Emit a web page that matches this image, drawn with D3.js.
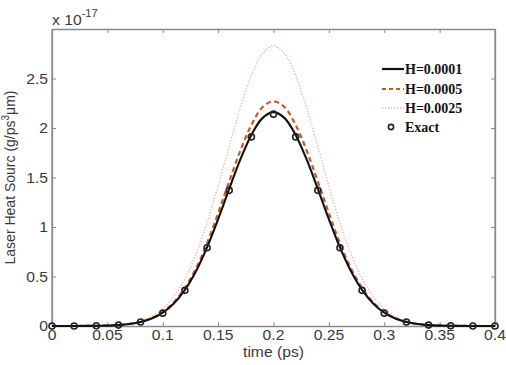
<!DOCTYPE html>
<html><head><meta charset="utf-8">
<script src="https://cdn.jsdelivr.net/npm/d3@7/dist/d3.min.js"></script>
<style>body{margin:0;background:#fff}svg{display:block}</style>
</head><body>
<svg id="c" width="506" height="365"></svg>
<script>
// time grid (ps)
const tFine = [0,0.01,0.02,0.03,0.04,0.05,0.06,0.07,0.08,0.09,0.10,0.11,0.12,0.13,0.14,0.15,0.16,0.17,0.18,0.19,0.20,
  0.21,0.22,0.23,0.24,0.25,0.26,0.27,0.28,0.29,0.30,0.31,0.32,0.33,0.34,0.35,0.36,0.37,0.38,0.39,0.40];
const h0001 = [0,0,0,0.001,0.002,0.004,0.009,0.020,0.040,0.075,0.134,0.228,0.365,0.554,0.795,1.08,1.385,1.68,1.93,2.10,2.16,
  2.10,1.93,1.68,1.385,1.08,0.795,0.554,0.365,0.228,0.134,0.075,0.040,0.020,0.009,0.004,0.002,0.001,0,0,0];
const h0005 = [0,0,0,0.001,0.002,0.004,0.009,0.021,0.042,0.079,0.14,0.24,0.385,0.58,0.835,1.14,1.46,1.77,2.03,2.21,2.27,
  2.21,2.03,1.77,1.46,1.14,0.835,0.58,0.385,0.24,0.14,0.079,0.042,0.021,0.009,0.004,0.002,0.001,0,0,0];
const h0025 = [0,0,0,0.001,0.002,0.005,0.012,0.026,0.052,0.098,0.176,0.299,0.478,0.726,1.04,1.415,1.815,2.20,2.53,2.75,2.83,
  2.75,2.53,2.20,1.815,1.415,1.04,0.726,0.478,0.299,0.176,0.098,0.052,0.026,0.012,0.005,0.002,0.001,0,0,0];
const tExact = [0,0.02,0.04,0.06,0.08,0.10,0.12,0.14,0.16,0.18,0.20,0.22,0.24,0.26,0.28,0.30,0.32,0.34,0.36,0.38,0.40];
const exact = [0,0,0.002,0.009,0.04,0.13,0.36,0.79,1.37,1.91,2.14,1.91,1.37,0.79,0.36,0.13,0.04,0.009,0.002,0,0];
const xTicks = [0,0.05,0.1,0.15,0.2,0.25,0.3,0.35,0.4];
const xTickLabels = ["0","0.05","0.1","0.15","0.2","0.25","0.3","0.35","0.4"];
const yTicks = [0,0.5,1,1.5,2,2.5];
const yTickLabels = ["0","0.5","1","1.5","2","2.5"];
const seriesNames = ["H=0.0001","H=0.0005","H=0.0025","Exact"];

const svg = d3.select("#c");
const L=52, R=495, T=29, B=326;
const x = d3.scaleLinear().domain([0,0.4]).range([L,R]);
const y = d3.scaleLinear().domain([0,3]).range([B,T]);
const axisCol = "#8a8a8a", textCol = "#3a3a3a";
const SX = 1.12;

function txt(px, py, s, opts={}) {
  const g = svg.append("g").attr("transform", `translate(${px},${py}) scale(${opts.sx||SX},1)`);
  return g.append("text").attr("text-anchor", opts.anchor||"middle")
    .attr("font-family", opts.family||"Arial, 'Liberation Sans', sans-serif")
    .attr("font-size", opts.size||14).attr("font-weight", opts.weight||"normal")
    .attr("fill", opts.fill||textCol).text(s);
}

// axes box via d3 axes
svg.append("g").attr("transform",`translate(0,${B})`)
  .call(d3.axisBottom(x).tickValues(xTicks).tickFormat("").tickSizeInner(-4).tickSizeOuter(0));
svg.append("g").attr("transform",`translate(0,${T})`)
  .call(d3.axisTop(x).tickValues(xTicks).tickFormat("").tickSizeInner(-4).tickSizeOuter(0));
svg.append("g").attr("transform",`translate(${L},0)`)
  .call(d3.axisLeft(y).tickValues(yTicks).tickFormat("").tickSizeInner(-4).tickSizeOuter(0));
svg.append("g").attr("transform",`translate(${R},0)`)
  .call(d3.axisRight(y).tickValues(yTicks).tickFormat("").tickSizeInner(-4).tickSizeOuter(0));
svg.selectAll(".domain").attr("stroke", axisCol).attr("stroke-width",1.3);
svg.selectAll(".tick line").attr("stroke", axisCol);
svg.append("line").attr("x1",L).attr("x2",L).attr("y1",T).attr("y2",B).attr("stroke",axisCol).attr("stroke-width",1.3);
svg.append("line").attr("x1",R).attr("x2",R).attr("y1",T).attr("y2",B).attr("stroke",axisCol).attr("stroke-width",1.3);

xTicks.forEach((v,i)=>txt(x(v), 340, xTickLabels[i]));
yTicks.forEach((v,i)=>txt(L-4, y(v)+5, yTickLabels[i], {anchor:"end"}));
txt((L+R)/2, 357, "time (ps)");

// y label
const yg = svg.append("g").attr("transform",`translate(15,${(T+B)/2}) rotate(-90)`);
const ylt = yg.append("text").attr("text-anchor","middle").attr("font-family","Arial, 'Liberation Sans', sans-serif")
  .attr("font-size",14).attr("fill",textCol);
ylt.append("tspan").text("Laser Heat Sourc (g/ps");
ylt.append("tspan").attr("dy",-6).attr("font-size",10).text("3");
ylt.append("tspan").attr("dy",6).text("\u03bcm)");

// exponent
const eg = svg.append("g").attr("transform",`translate(52,25) scale(${SX},1)`);
const et = eg.append("text").attr("font-family","Arial, 'Liberation Sans', sans-serif").attr("font-size",14).attr("fill",textCol);
et.append("tspan").text("x 10");
et.append("tspan").attr("dy",-8).attr("font-size",10).text("-17");

// curves
const line = d3.line().x(d=>x(d[0])).y(d=>y(d[1])).curve(d3.curveCatmullRom);
const styles = [
  {data:h0025, stroke:"#f0a898", w:1.3, dash:"1.2,1.8"},
  {data:h0005, stroke:"#c85a28", w:2.2, dash:"5,3.5"},
  {data:h0001, stroke:"#111", w:2.1, dash:null},
];
styles.forEach(s=>{
  svg.append("path").datum(tFine.map((t,i)=>[t,s.data[i]])).attr("d",line)
    .attr("fill","none").attr("stroke",s.stroke).attr("stroke-width",s.w)
    .attr("stroke-dasharray",s.dash);
});
svg.append("g").selectAll("circle").data(tExact.map((t,i)=>[t,exact[i]])).join("circle")
  .attr("cx",d=>x(d[0])).attr("cy",d=>y(d[1])).attr("r",3)
  .attr("fill","none").attr("stroke","#222").attr("stroke-width",1.6);

// legend
const legStyles = [
  {stroke:"#111", w:2.2, dash:null},
  {stroke:"#c85a28", w:1.8, dash:"4,3"},
  {stroke:"#f0a898", w:1.3, dash:"1.2,1.8"},
];
const legY = [69,89,108,127];
seriesNames.forEach((n,i)=>{
  if (i<3) {
    svg.append("line").attr("x1",382).attr("x2",404).attr("y1",legY[i]).attr("y2",legY[i])
      .attr("stroke",legStyles[i].stroke).attr("stroke-width",legStyles[i].w).attr("stroke-dasharray",legStyles[i].dash);
  } else {
    svg.append("circle").attr("cx",391).attr("cy",legY[i]).attr("r",2.6).attr("fill","none")
      .attr("stroke","#222").attr("stroke-width",1.6);
  }
  txt(405, legY[i]+5, n, {anchor:"start", family:"'Liberation Serif','Times New Roman',serif", weight:"bold", size:14, fill:"#111", sx:1});
});
</script>
</body></html>
